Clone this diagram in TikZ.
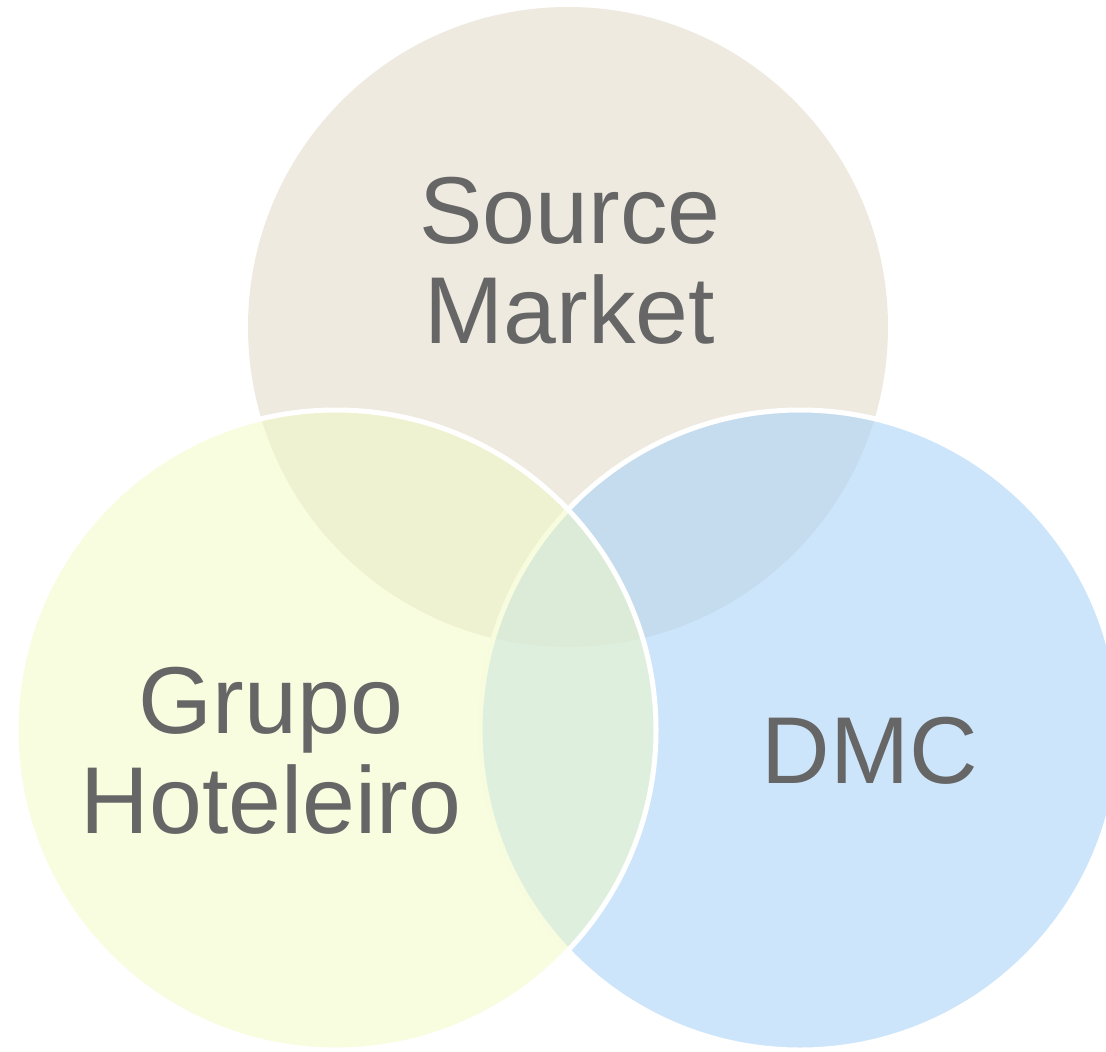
\documentclass[tikz,border=0pt]{standalone}
\usepackage{fontspec}
\setmainfont{Liberation Sans}
\definecolor{topc}{RGB}{238,234,224}
\definecolor{rightc}{RGB}{170,212,248}
\definecolor{leftc}{RGB}{241,251,193}
\definecolor{txt}{RGB}{102,102,102}
\begin{document}
\begin{tikzpicture}[x=1pt,y=-1pt,
  lbl/.style={text=txt, font=\fontsize{95}{100}\selectfont, align=center, inner sep=0pt, anchor=base},
  ring/.style={draw=white, line width=5pt}]
\useasboundingbox (0,0) rectangle (1106,1052);
\clip (0,0) rectangle (1106,1052);
\fill[topc] (568,327) circle[radius=320];
\draw[ring, fill=rightc, fill opacity=0.6] (800,730) circle[radius=320];
\draw[ring, fill=leftc, fill opacity=0.5] (336,730) circle[radius=320];
\node[lbl] (sm) at (570,343) {Source\\Market};
\node[lbl] (gh) at (271,833) {Grupo\\Hoteleiro};
\node[lbl] (dmc) at (870,783) {DMC};
\end{tikzpicture}
\end{document}
